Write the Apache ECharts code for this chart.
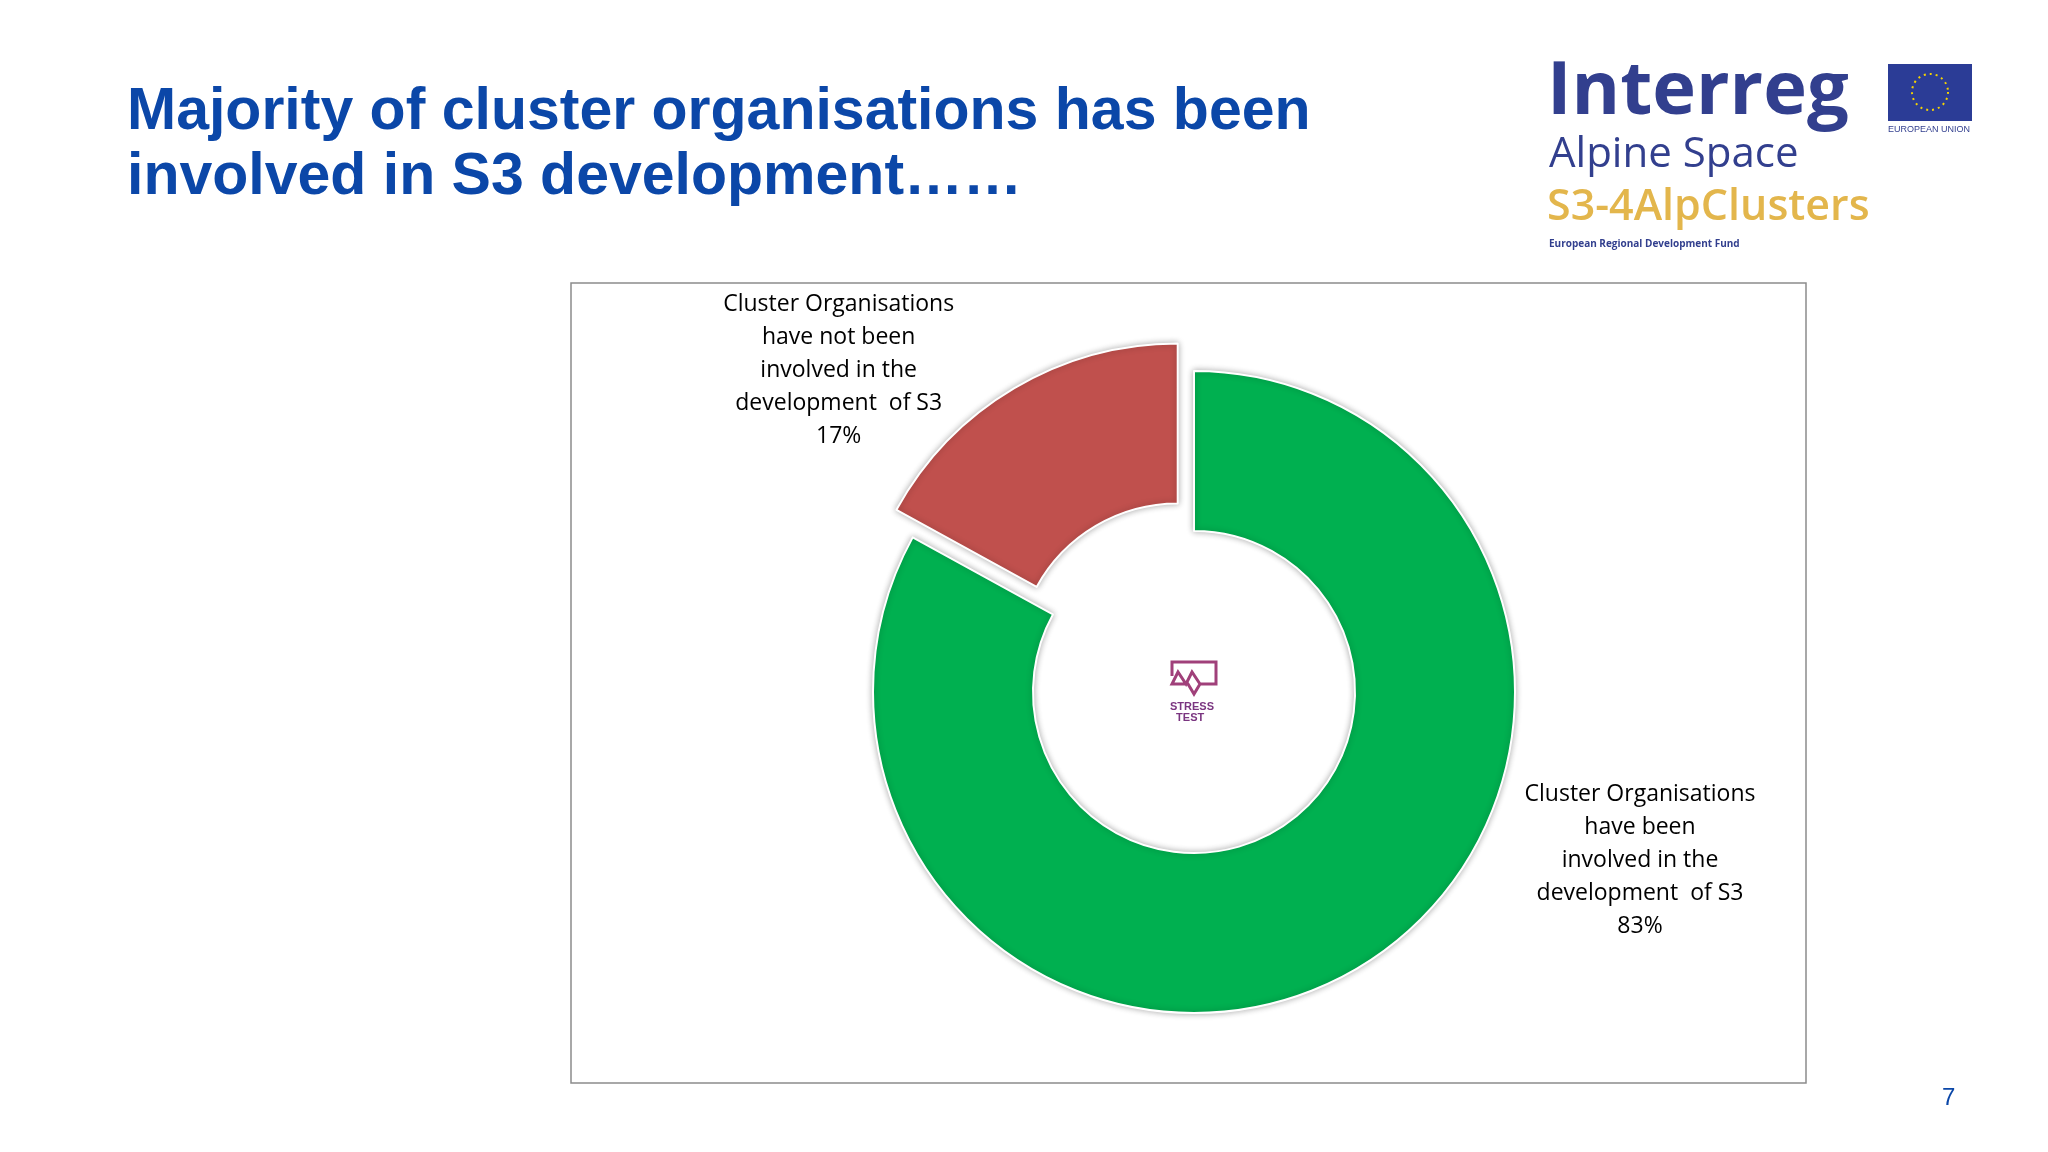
<!DOCTYPE html>
<html><head><meta charset="utf-8">
<script src="https://cdn.jsdelivr.net/npm/echarts@6/dist/echarts.min.js"></script>
<style>html,body{margin:0;padding:0;background:#fff}#c{width:2048px;height:1152px}</style>
</head><body><div id="c"></div>
<script>
const categories = ["Cluster Organisations\nhave been\ninvolved in the\ndevelopment  of S3", "Cluster Organisations\nhave not been\ninvolved in the\ndevelopment  of S3"];
const values = [83, 17];
const colors = ["#00b050", "#c0504d"];
const labelPos = [[1640, 860], [700, 361]];
const labelShift = [[0, 0], [-133, -5]];

const chart = echarts.init(document.getElementById('c'));
chart.setOption({
  backgroundColor: '#fff',
  animation: false,
  graphic: [
    {type:'text', left:127, top:80, style:{text:'Majority of cluster organisations has been\ninvolved in S3 development……', font:'bold 59px "Liberation Sans", Arial', fill:'#0b47a8', lineHeight:65}},
    {type:'rect', shape:{x:571, y:283, width:1235, height:800}, style:{fill:'none', stroke:'#8c8c8c', lineWidth:1.5}},
    {type:'text', left:1547, top:56, style:{text:'Interreg', font:'bold 74px "Open Sans", Arial', fill:'#323f8e'}},
    {type:'text', left:1549, top:134, style:{text:'Alpine Space', font:'42px "Open Sans", Arial', fill:'#323f8e'}},
    {type:'text', left:1547, top:186, style:{text:'S3-4AlpClusters', font:'600 43px "Open Sans", Arial', fill:'#e3b64c'}},
    {type:'text', left:1549, top:239, style:{text:'European Regional Development Fund', font:'bold 10px "Open Sans", Arial', fill:'#323f8e'}},
    {type:'rect', shape:{x:1888, y:64, width:84, height:57}, style:{fill:'#2b3c96'}},
    {type:'circle', shape:{cx:1930, cy:92, r:18}, style:{fill:'none', stroke:'#f5d300', lineWidth:2, lineDash:[2,4]}},
    {type:'text', left:1888, top:125, style:{text:'EUROPEAN UNION', font:'9px "Liberation Sans", Arial', fill:'#323f8e'}},
    {type:'text', left:1942, top:1086, style:{text:'7', font:'24px "Liberation Sans", Arial', fill:'#0b47a8'}},
    {type:'polyline', shape:{points:[[1172,676],[1172,662],[1216,662],[1216,684],[1200,684],[1194,694],[1188,684],[1172,684],[1178,672],[1186,684],[1192,672],[1200,684]]}, style:{fill:'none', stroke:'#a0407a', lineWidth:3}},
    {type:'text', left:1170, top:701, style:{text:'STRESS\n  TEST', font:'bold 11px "Liberation Sans", Arial', fill:'#7a3580', lineHeight:11}}
  ],
  series: [{
    type: 'pie',
    center: [1194, 692],
    radius: [161, 321],
    startAngle: 90,
    clockwise: true,
    selectedMode: 'multiple',
    selectedOffset: 32,
    itemStyle: {borderColor:'#fff', borderWidth:2, shadowBlur:6, shadowColor:'rgba(0,0,0,0.3)'},
    label: {show:true, position:'outside', formatter: p => p.name + '\n' + p.value + '%', fontSize:23, fontFamily:'"Open Sans", Arial', color:'#000', lineHeight:33, align:'center'},
    labelLine: {show:false},
    labelLayout: p => ({x: labelPos[p.dataIndex][0], y: labelPos[p.dataIndex][1], dx: labelShift[p.dataIndex][0], dy: labelShift[p.dataIndex][1], align:'center', verticalAlign:'middle'}),
    data: categories.map((n,i) => ({name:n, value:values[i], selected: i===1, itemStyle:{color:colors[i]}}))
  }]
});
</script></body></html>
